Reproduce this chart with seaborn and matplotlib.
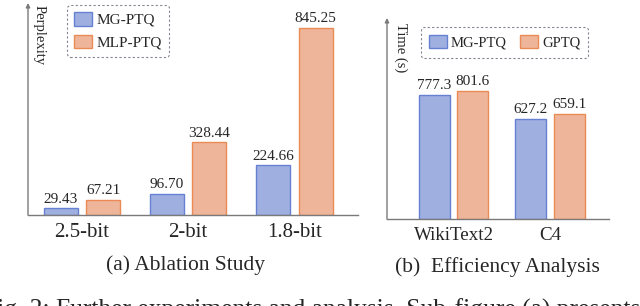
import matplotlib
matplotlib.use("Agg")
import matplotlib.pyplot as plt
import pandas as pd
import seaborn as sns

# Ablation study (perplexity)
bits = ["2.5-bit", "2-bit", "1.8-bit"]
mg_ptq_ppl = [29.43, 96.70, 224.66]
mlp_ptq_ppl = [67.21, 328.44, 845.25]

# Efficiency analysis (time in seconds)
datasets = ["WikiText2", "C4"]
mg_ptq_time = [777.3, 627.2]
gptq_time = [801.6, 659.1]

BLUE = "#9fb0e0"
BLUE_EDGE = "#6680d2"
ORANGE = "#eeb59a"
ORANGE_EDGE = "#ea8a55"
AXIS_GRAY = "#7a7a7a"

sns.set_theme(style="white")
plt.rcParams["font.family"] = ["Liberation Serif", "DejaVu Serif"]

W, H = 640, 306
fig = plt.figure(figsize=(6.4, 3.06), dpi=100)


def fx(px):
    return px / W


def fy(py):
    return 1 - py / H


def draw_panel(ax, df, hue_order, colors, edges, fmt, ylim, xlim, tick_size):
    sns.barplot(data=df, x="cat", y="value", hue="method", hue_order=hue_order,
                palette=colors, width=0.8, gap=0.2, ax=ax, legend=False,
                saturation=1)
    for container, edge in zip(ax.containers, edges):
        for bar in container:
            bar.set_edgecolor(edge)
            bar.set_linewidth(1.0)
        ax.bar_label(container, fmt=fmt, padding=2, fontsize=11)
    ax.set_ylim(0, ylim)
    ax.set_xlim(*xlim)
    ax.set_xlabel("")
    ax.set_ylabel("")
    ax.set_yticks([])
    ax.tick_params(axis="x", length=0, pad=6, labelsize=tick_size)
    for s in ["top", "right", "left"]:
        ax.spines[s].set_visible(False)
    ax.spines["bottom"].set_color(AXIS_GRAY)
    ax.spines["bottom"].set_linewidth(1.0)
    ax.annotate("", xy=(0, 1), xytext=(0, 0), xycoords="axes fraction",
                arrowprops=dict(arrowstyle="-|>", color=AXIS_GRAY, lw=1.0,
                                mutation_scale=6, shrinkA=0, shrinkB=0))


# (a) Ablation Study
ax1 = fig.add_axes([fx(28), fy(215), fx(330), (215 - 3) / H])
df_ppl = pd.DataFrame({
    "cat": bits * 2,
    "value": mg_ptq_ppl + mlp_ptq_ppl,
    "method": ["MG-PTQ"] * 3 + ["MLP-PTQ"] * 3,
})
draw_panel(ax1, df_ppl, ["MG-PTQ", "MLP-PTQ"], [BLUE, ORANGE],
           [BLUE_EDGE, ORANGE_EDGE], "%.2f", 958, (-0.51, 2.60), 15)

# (b) Efficiency Analysis
ax2 = fig.add_axes([fx(387), fy(219), fx(222), (219 - 18) / H])
df_time = pd.DataFrame({
    "cat": datasets * 2,
    "value": mg_ptq_time + gptq_time,
    "method": ["MG-PTQ"] * 2 + ["GPTQ"] * 2,
})
draw_panel(ax2, df_time, ["MG-PTQ", "GPTQ"], [BLUE, ORANGE],
           [BLUE_EDGE, ORANGE_EDGE], "%.1f", 1260, (-0.69, 1.61), 13.7)

# y-axis labels, written top-to-bottom inside the plot area
fig.text(fx(39), fy(5), "Perplexity", rotation=270, ha="center", va="top",
         fontsize=10.5)
fig.text(fx(401), fy(23), "Time (s)", rotation=270, ha="center", va="top",
         fontsize=10.5)


def add_legend(labels, anchor, ncol, size, **kw):
    handles = [
        plt.Rectangle((0, 0), 1, 1, facecolor=BLUE, edgecolor=BLUE_EDGE, lw=1),
        plt.Rectangle((0, 0), 1, 1, facecolor=ORANGE, edgecolor=ORANGE_EDGE, lw=1),
    ]
    leg = fig.legend(handles, labels, loc="upper left", bbox_to_anchor=anchor,
                     ncol=ncol, fontsize=size, frameon=True, fancybox=True,
                     handlelength=1.2, handleheight=1.0, handletextpad=0.3,
                     borderaxespad=0, **kw)
    frame = leg.get_frame()
    frame.set_edgecolor("#666677")
    frame.set_linestyle((0, (2, 2)))
    frame.set_linewidth(0.8)
    frame.set_facecolor("white")
    return leg


add_legend(["MG-PTQ", "MLP-PTQ"], (fx(67), fy(5)), 1, 11,
           labelspacing=0.5, borderpad=0.45)
add_legend(["MG-PTQ", "GPTQ"], (fx(421), fy(27)), 2, 10.5,
           columnspacing=0.9, borderpad=0.55)

# sub-captions
fig.text(fx(185), fy(265), "(a) Ablation Study", ha="center", va="center",
         fontsize=15.5)
fig.text(fx(497), fy(267), "(b)  Efficiency Analysis", ha="center",
         va="center", fontsize=15.5)

# figure caption, cut off by the bottom edge
fig.text(fx(-17), fy(317),
         "Fig. 2: Further experiments and analysis. Sub-figure (a) presents the",
         ha="left", va="baseline", fontsize=18.4)

fig.savefig("out.png", dpi=100)
